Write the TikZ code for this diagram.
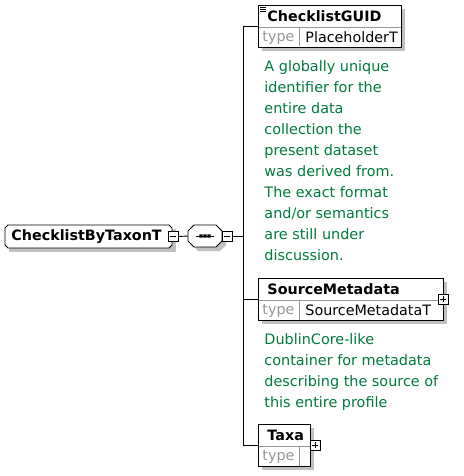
\documentclass[tikz,border=0pt]{standalone}
\usepackage{fontspec}
\setmainfont{DejaVu Sans}
\definecolor{notegreen}{RGB}{0,122,61}
\definecolor{shadowgray}{RGB}{192,192,192}
\definecolor{typegray}{RGB}{150,150,150}
\newcommand{\chamfpath}[2]{([xshift=#2]#1.north west) -- ([xshift=-#2]#1.north east) -- ([yshift=-#2]#1.north east) -- ([yshift=#2]#1.south east) -- ([xshift=-#2]#1.south east) -- ([xshift=#2]#1.south west) -- ([yshift=#2]#1.south west) -- ([yshift=-#2]#1.north west) -- cycle}
\begin{document}
\begin{tikzpicture}[x=1pt,y=-1pt,line width=0.9pt,
  elem/.style={draw=black,fill=white,anchor=north west,inner sep=0,minimum height=42pt},
  frame/.style={inner sep=0,outer sep=0},
  titletext/.style={anchor=west,inner sep=0,font=\bfseries\fontsize{14.3}{16}\selectfont},
  typelabel/.style={anchor=west,inner sep=0,text=typegray,font=\fontsize{14.3}{16}\selectfont},
  typevalue/.style={anchor=west,inner sep=0,font=\fontsize{14.3}{16}\selectfont},
  note/.style={anchor=north west,inner sep=0,align=left,text=notegreen,font=\fontsize{14.4}{21}\selectfont},
  minusbox/.style={draw=black,fill=white,minimum size=10pt,inner sep=0,line width=0.8pt,
    path picture={\draw[line width=0.8pt] ([xshift=2pt]path picture bounding box.west) -- ([xshift=-2pt]path picture bounding box.east);}},
  plusbox/.style={draw=black,fill=white,minimum size=10pt,inner sep=0,line width=0.8pt,
    path picture={\draw[line width=0.8pt] ([xshift=2pt]path picture bounding box.west) -- ([xshift=-2pt]path picture bounding box.east)
      ([yshift=-2pt]path picture bounding box.north) -- ([yshift=2pt]path picture bounding box.south);}},
  divider/.style={draw=typegray,line width=0.8pt}
]
\useasboundingbox (0,0) rectangle (463,476);

% shadows
\fill[shadowgray] (9,229) -- (176,229) -- (176,252) -- (9,252) -- cycle;
\fill[shadowgray] (198,229) -- (220,229) -- (226,235) -- (226,245) -- (220,251) -- (198,251) -- (192,245) -- (192,235) -- cycle;
\fill[shadowgray] (262,9) rectangle (405,51);
\fill[shadowgray] (262,282) rectangle (447,324);
\fill[shadowgray] (262,428) rectangle (314,470);

% root element
\node[frame,minimum width=167pt,minimum height=23pt] (root) at (88.5,236.5) {};
\draw[fill=white] \chamfpath{root}{3pt};
\node[titletext] (roottitle) at (11,236.5) {ChecklistByTaxonT};
\node[minusbox] (rootminus) at (173,236.5) {};

% sequence compositor
\node[frame,minimum width=34pt,minimum height=22pt] (seq) at (205,236) {};
\draw[fill=white] \chamfpath{seq}{6pt};
\node[minusbox] (seqminus) at (227,236.5) {};
\draw[line width=0.9pt] ([xshift=-9pt]seq.center) -- ([xshift=9pt]seq.center);
\foreach \dx in {-4,0,4} \fill ([xshift=\dx pt]seq.center) rectangle ++(1.6,1.6) ([xshift=\dx pt]seq.center) rectangle ++(-1.6,-1.6) ([xshift=\dx pt]seq.center) rectangle ++(1.6,-1.6) ([xshift=\dx pt]seq.center) rectangle ++(-1.6,1.6);

% spine
\coordinate (spinetop) at (243,26);
\coordinate (spinebot) at (243,445);

% ChecklistGUID
\node[elem,minimum width=143pt] (guid) at (258,5) {};
\draw[divider] (258.5,27) -- (400.5,27);
\draw[divider] (299,27) -- (299,46.5);
\node[titletext] (guidtitle) at (267,16.5) {ChecklistGUID};
\node[typelabel] (guidtype) at (262,37.5) {type};
\node[typevalue] (guidval) at (305,37.5) {PlaceholderT};
\draw[line width=0.7pt] (260,7.5) -- (266,7.5) (260,9.5) -- (266,9.5) (260,11.5) -- (266,11.5);
\node[note] (guidnote) at (264,60) {A globally unique\\identifier for the\\entire data\\collection the\\present dataset\\was derived from.\\The exact format\\and/or semantics\\are still under\\discussion.};

% SourceMetadata
\node[elem,minimum width=185pt] (src) at (258,278) {};
\draw[divider] (258.5,300) -- (442.5,300);
\draw[divider] (299,300) -- (299,319.5);
\node[titletext] (srctitle) at (267,289.5) {SourceMetadata};
\node[typelabel] (srctype) at (262,310.5) {type};
\node[typevalue] (srcval) at (305,310.5) {SourceMetadataT};
\node[plusbox] (srcplus) at (443,299) {};
\node[note] (srcnote) at (264,333) {DublinCore-like\\container for metadata\\describing the source of\\this entire profile};

% Taxa
\node[elem,minimum width=52pt] (taxa) at (258,424) {};
\draw[divider] (258.5,446) -- (309.5,446);
\draw[divider] (299,446) -- (299,465.5);
\node[titletext] (taxatitle) at (267,435.5) {Taxa};
\node[typelabel] (taxatype) at (262,456.5) {type};
\node[plusbox] (taxaplus) at (315,445) {};

% connectors
\draw (rootminus.east) -- (seq.west);
\draw (seqminus.east) -- (seqminus.east -| spinetop);
\draw (spinetop) -- (spinebot);
\draw (spinetop) -- (spinetop -| guid.west);
\draw (spinetop |- src.west) -- (src.west);
\draw (spinebot) -- (spinebot -| taxa.west);
\end{tikzpicture}
\end{document}
